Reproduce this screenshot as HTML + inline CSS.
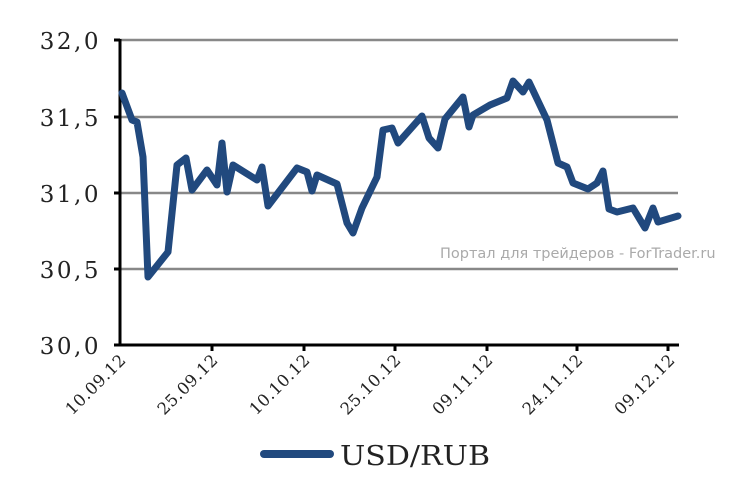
<!DOCTYPE html>
<html><head><meta charset="utf-8"><style>
html,body{margin:0;padding:0;background:#fff;width:730px;height:483px;overflow:hidden}
svg{display:block}
</style></head><body>
<svg width="730" height="483" viewBox="0 0 730 483" xmlns="http://www.w3.org/2000/svg">
<g stroke="#888" stroke-width="2.5">
<line x1="120" y1="40" x2="678" y2="40"/>
<line x1="120" y1="117" x2="678" y2="117"/>
<line x1="120" y1="193" x2="678" y2="193"/>
<line x1="120" y1="269" x2="678" y2="269"/>
</g>
<g stroke="#000" stroke-width="3">
<line x1="120" y1="39" x2="120" y2="346"/>
<line x1="118" y1="345" x2="679" y2="345"/>
<line x1="114" y1="40" x2="120" y2="40"/>
<line x1="114" y1="117" x2="120" y2="117"/>
<line x1="114" y1="193" x2="120" y2="193"/>
<line x1="114" y1="269" x2="120" y2="269"/>
<line x1="114" y1="345" x2="120" y2="345"/>
<line x1="212" y1="345" x2="212" y2="351"/>
<line x1="304" y1="345" x2="304" y2="351"/>
<line x1="395" y1="345" x2="395" y2="351"/>
<line x1="487" y1="345" x2="487" y2="351"/>
<line x1="577" y1="345" x2="577" y2="351"/>
<line x1="668" y1="345" x2="668" y2="351"/>
</g>
<g font-family="DejaVu Serif, serif" font-size="23" fill="#222" text-anchor="end" letter-spacing="2.5">
<text x="101" y="49">32,0</text>
<text x="101" y="126">31,5</text>
<text x="101" y="202">31,0</text>
<text x="101" y="278">30,5</text>
<text x="101" y="354">30,0</text>
</g>
<g font-family="DejaVu Serif, serif" font-size="16.5" fill="#222" text-anchor="end" letter-spacing="0.5">
<text transform="translate(127,361) rotate(-45)">10.09.12</text>
<text transform="translate(219,361) rotate(-45)">25.09.12</text>
<text transform="translate(311,361) rotate(-45)">10.10.12</text>
<text transform="translate(402,361) rotate(-45)">25.10.12</text>
<text transform="translate(494,361) rotate(-45)">09.11.12</text>
<text transform="translate(584,361) rotate(-45)">24.11.12</text>
<text transform="translate(676,361) rotate(-45)">09.12.12</text>
</g>
<text x="440" y="258" font-family="DejaVu Sans, sans-serif" font-size="14.5" fill="#aaa">Портал для трейдеров - ForTrader.ru</text>
<polyline fill="none" stroke="#21497e" stroke-width="7" stroke-linejoin="round" stroke-linecap="round"
points="122,93 132,120 137,122 143,157 148,277 168,252 177,165 186,158 192,190 207,170 217,185 222,143 227,192 233,165 257,180 262,167 268,206 297,168 307,172 312,191 317,175 337,184 347,223 353,233 362,208 377,177 383,130 392,128 398,143 422,116 429,138 438,148 445,119 463,97 469,127 473,115 490,105 507,98 513,81 523,92 529,82 547,120 558,163 567,167 573,183 588,189 597,183 603,171 609,209 617,212 633,208 645,228 653,208 658,222 678,216"/>
<line x1="264" y1="454" x2="330" y2="454" stroke="#21497e" stroke-width="8" stroke-linecap="round"/>
<text x="340" y="465" font-family="DejaVu Serif, serif" font-size="27" fill="#222" textLength="150" lengthAdjust="spacingAndGlyphs">USD/RUB</text>
</svg>
</body></html>
